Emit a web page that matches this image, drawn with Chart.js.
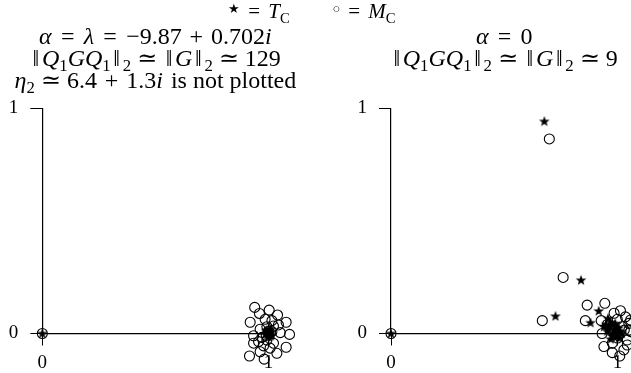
<!DOCTYPE html>
<html><head><meta charset="utf-8">
<script src="https://cdn.jsdelivr.net/npm/chart.js@4.4.0/dist/chart.umd.min.js"></script>
<style>
html,body{margin:0;padding:0;background:#fff;}
#wrap{position:relative;width:631px;height:373px;}
canvas{position:absolute;left:0;top:0;}
</style></head><body>
<div id="wrap"><canvas id="c1" width="631" height="373"></canvas><canvas id="c2" width="631" height="373"></canvas></div>
<script>
// ---- data ----
const tickValues = [0, 1];
const leftCircles = [[0,0],[0.939,0.116],[1.003,0.104],[0.960,0.089],[1.040,0.082],[0.919,0.050],[0.985,0.063],[1.015,0.057],[1.078,0.050],[1.044,0.038],[1.052,0.004],[1.093,-0.004],[0.934,-0.010],[0.971,-0.017],[0.934,-0.043],[0.978,-0.055],[1.022,-0.043],[1.078,-0.061],[0.916,-0.100],[0.981,-0.114],[1.037,-0.088],[0.963,-0.081],[1.015,0.008],[1.022,0.033],[0.963,0.019],[0.993,0.030],[0.993,-0.029],[0.956,-0.036],[1.007,-0.065],[1.000,0.010],[0.990,-0.008]];
const leftStars = [[0,0],[1,0],[0.99,0.01],[1.01,-0.01],[1.005,0.012],[0.995,-0.008],[1.012,0.005],[0.988,-0.003],[1.0,-0.015],[1.008,0.018],[0.992,0.015],[1.015,-0.006]];
const rightCircles = [[0,0],[0.699,0.864],[0.760,0.249],[0.668,0.057],[0.866,0.126],[0.944,0.134],[0.858,0.057],[0.928,0.057],[1.013,0.101],[1.035,0.074],[0.999,0.063],[1.058,0.060],[0.932,0.0],[0.940,-0.058],[0.977,-0.085],[1.028,-0.073],[0.977,-0.043],[1.043,-0.029],[1.050,0.015],[0.969,0.020],[1.020,0.030],[1.0,-0.020],[1.043,-0.051],[0.955,0.040],[1.030,0.015],[1.058,0.008],[1.050,0.045],[1.010,-0.100],[0.985,0.090]];
const rightStars = [[0,0],[0.677,0.942],[0.839,0.237],[0.726,0.077],[0.917,0.100],[0.881,0.048],[0.958,0.067],[0.95,0.04],[0.97,0.05],[0.99,0.03],[1.0,0.0],[0.98,0.0],[1.01,0.01],[0.96,0.02],[0.975,-0.01],[0.995,-0.015],[1.01,-0.02],[0.985,0.015],[0.965,0.035],[0.955,0.01],[1.02,0.0],[0.99,0.045],[1.005,0.025],[0.94,0.03],[0.97,-0.025]];
// ---- text ----
// segment: [text, style, extra]; styles: r roman, i italic, s subscript, g gap(em), b roman boxed to width(em)
const R = ['', 'g', 0.278], B = ['', 'g', 0.222];
const EQ = ['=','b',0.778], SIM = ['≃','b',0.778], PLUS = ['+','b',0.778], NORM = ['‖','b',0.5];
const legendItems = [
  {cx:259, segs:[['★','r',0.62,-0.22],R,EQ,R,['T','i'],['C','s']]},
  {cx:364, segs:[['○','r',0.62,-0.22],R,EQ,R,['M','i'],['C','s']]}
];
const normSegs = n => [NORM,['Q','i'],['1','s'],['G','i'],['Q','i'],['1','s'],NORM,['2','s'],R,SIM,R,NORM,['G','i'],NORM,['2','s'],R,SIM,R,[n,'r']];
const leftTitle = [
  [['α','i'],R,EQ,R,['λ','i'],R,EQ,R,['−9.87','r'],B,PLUS,B,['0.702','r'],['i','i']],
  normSegs('129'),
  [['η','i'],['2','s'],R,SIM,R,['6.4','r'],B,PLUS,B,['1.3','r'],['i','i'],['', 'g', 0.333],['is not plotted','r']]
];
const rightTitle = [
  [['α','i'],R,EQ,R,['0','r']],
  normSegs('9')
];
const titleBaselines = [44, 66, 88];
const TITLE_SIZE = 24;
const LEGEND_SIZE = 21;

const FAM = '"Liberation Serif","DejaVu Serif",serif';
function drawRich(ctx, segs, cx, base, size){
  const f = s => (s[1]==='i'?'italic ':'') + (s[1]==='s'? size*0.7 : size*((s[1]==='r'&&s[2])||1)) + 'px ' + FAM;
  const wOf = s => { if (s[1]==='g' || s[1]==='b') return s[2]*size; ctx.font=f(s); return ctx.measureText(s[0]).width; };
  let w = 0; for (const s of segs) w += wOf(s);
  let x = cx - w/2;
  ctx.save(); ctx.fillStyle='#000'; ctx.textBaseline='alphabetic';
  for (const s of segs){
    const ww = wOf(s);
    if (s[1]==='b'){ ctx.font=f(s); ctx.textAlign='center'; ctx.fillText(s[0], x+ww/2, base); }
    else if (s[1]!=='g'){ ctx.font=f(s); ctx.textAlign='left'; const dy = s[1]==='s'? size*0.22 : (s[3]||0)*size; ctx.fillText(s[0], x, base+dy); }
    x += ww;
  }
  ctx.restore();
}

// star point image
const starImg = document.createElement('canvas');
starImg.width = 12; starImg.height = 12;
(function(){ const g=starImg.getContext('2d'); g.fillStyle='#000'; g.beginPath();
  for(let k=0;k<10;k++){ const r = k%2? 2.3:5.6; const a = -Math.PI/2 + k*Math.PI/5; const px=6+r*Math.cos(a), py=6.3+r*Math.sin(a); k?g.lineTo(px,py):g.moveTo(px,py);} g.closePath(); g.fill(); })();

const toXY = arr => arr.map(([x,y])=>({x,y}));

// let points just outside the 0..1 box be drawn (PointElement skips points outside chartArea)
const widenArea = { id:'widenArea',
  beforeDatasetsDraw(chart){ chart._savedArea = chart.chartArea;
    chart.chartArea = {left:0, top:0, right:chart.width, bottom:chart.height, width:chart.width, height:chart.height}; },
  afterDatasetsDraw(chart){ chart.chartArea = chart._savedArea; }
};

function makeChart(id, circles, stars, padL, padR, titleLines, drawLegend){
  const titlePlugin = { id:'richTitles', afterDraw(chart){
    const ctx = chart.ctx; const a = chart.chartArea; const cx = (a.left+a.right)/2;
    titleLines.forEach((segs,i)=>drawRich(ctx, segs, cx, titleBaselines[i], TITLE_SIZE));
    if (drawLegend) legendItems.forEach(it=>drawRich(ctx, it.segs, it.cx, 18, LEGEND_SIZE));
  }};
  const axisCommon = {
    min:0, max:1,
    ticks:{ stepSize:1, color:'#000', font:{family:FAM, size:19}, autoSkip:false,
      callback:(v)=> tickValues.includes(v) ? String(v) : '' },
    grid:{ display:true, drawOnChartArea:false, drawTicks:true, tickLength:12, color:'#000', lineWidth:1 },
    border:{ display:true, color:'#000', width:1.2 }
  };
  return new Chart(document.getElementById(id), {
    type:'scatter',
    data:{ datasets:[
      { label:'M_C', data:toXY(circles), pointStyle:'circle', pointRadius:5, pointBorderWidth:1.1,
        pointBorderColor:'#000', pointBackgroundColor:'rgba(0,0,0,0)', clip:false },
      { label:'T_C', data:toXY(stars), pointStyle:starImg, pointRadius:6, clip:false }
    ]},
    options:{
      responsive:false, animation:false, events:[],
      layout:{ padding:{ left:padL, right:padR, top:108.3, bottom:0 } },
      plugins:{ legend:{display:false}, title:{display:false}, tooltip:{enabled:false} },
      scales:{
        x:{ ...axisCommon, type:'linear', position:'bottom',
            ticks:{...axisCommon.ticks, padding:6, maxRotation:0},
            afterFit:s=>{ s.height = 373-333.5; } },
        y:{ ...axisCommon, type:'linear', position:'left',
            ticks:{...axisCommon.ticks, padding:12},
            afterFit:s=>{ s.width = 42.3; } }
      }
    },
    plugins:[widenArea, titlePlugin]
  });
}
makeChart('c1', leftCircles, leftStars, 0, 631-268.5, leftTitle, true);
makeChart('c2', rightCircles, rightStars, 391-42.3, 631-617.5, rightTitle, false);
</script></body></html>
